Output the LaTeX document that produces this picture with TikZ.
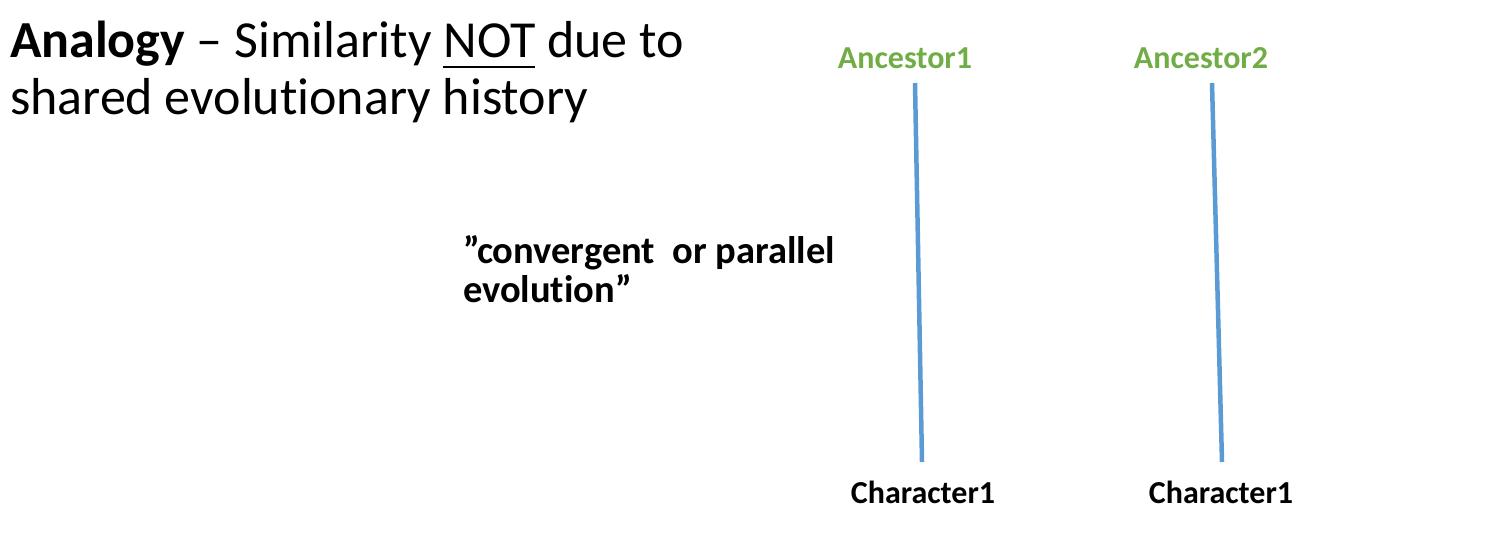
\documentclass[tikz,border=0pt]{standalone}
\usepackage{fontspec}
\setmainfont{Carlito}[Ligatures=NoCommon]
\usetikzlibrary{
  positioning
}
\definecolor{ancgreen}{HTML}{70AD47}
\definecolor{linkblue}{HTML}{5B9BD5}
\newcommand{\undertext}[1]{\setbox0\hbox{#1}\rlap{\rule[-11pt]{\wd0}{2.5pt}}\box0\relax}
\tikzset{
  x = 1pt,
  y = -1pt,
  every node/.style = {inner sep=0pt, outer sep=0pt},
  ancestor/.style = {text=ancgreen, font=\fontsize{32}{38}\selectfont\bfseries, anchor=base},
  character/.style = {font=\fontsize{32}{38}\selectfont\bfseries, anchor=base},
  lineage/.style = {draw=linkblue, line width=4.5pt},
}

\begin{document}
\begin{tikzpicture}
  \useasboundingbox (0,0) rectangle (1506,538);
  \node[anchor=base west, align=left, font=\fontsize{52}{57}\selectfont] (title)
    at (10,114) {\textbf{Analogy} -- Similarity \undertext{NOT} due to\\shared evolutionary history};
  \node[anchor=base west, align=left, font=\fontsize{38.5}{39}\selectfont\bfseries] (conv)
    at (463,302) {”convergent\ \ or parallel\\evolution”};
  \node[ancestor] (anc1) at (905,68) {Ancestor1};
  \node[ancestor] (anc2) at (1201,68) {Ancestor2};
  \node[character] (char1) at (923,503) {Character1};
  \node[character] (char2) at (1221,503) {Character1};
  \coordinate (top1) at (915,83);
  \coordinate (bot1) at (922,462);
  \coordinate (top2) at (1212,83);
  \coordinate (bot2) at (1222,462);
  \draw[lineage] (top1) -- (bot1);
  \draw[lineage] (top2) -- (bot2);
\end{tikzpicture}
\end{document}
